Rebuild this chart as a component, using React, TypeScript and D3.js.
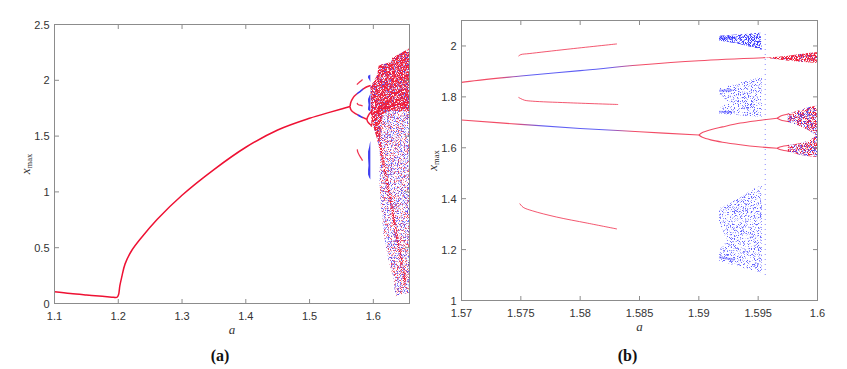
import React from 'react';
import * as d3 from 'd3';

type Pt = [number, number];

// period-1 branch (a = 1.1 .. first doubling)
const mainBranch: Pt[] = [
  [1.1, 0.105], [1.125, 0.089], [1.15, 0.076], [1.175, 0.064], [1.19, 0.057],
  [1.196, 0.054], [1.1985, 0.058], [1.2005, 0.08], [1.2025, 0.16], [1.2054, 0.236],
  [1.2107, 0.355], [1.2211, 0.475], [1.2368, 0.594], [1.2612, 0.755], [1.3, 0.97],
  [1.35, 1.2], [1.4, 1.4], [1.45, 1.555], [1.5, 1.66], [1.5325, 1.715],
  [1.55, 1.743], [1.5635, 1.765],
];

// period-2 branches
const upperBranch: Pt[] = [
  [1.5635, 1.765], [1.5642, 1.792], [1.5655, 1.814], [1.5675, 1.836], [1.57, 1.857],
  [1.575, 1.882], [1.58, 1.903], [1.585, 1.925], [1.59, 1.942], [1.5956, 1.954],
];
const lowerBranch: Pt[] = [
  [1.5635, 1.765], [1.5642, 1.745], [1.5655, 1.73], [1.5675, 1.718], [1.57, 1.709],
  [1.575, 1.692], [1.58, 1.676], [1.585, 1.663], [1.59, 1.65],
];
// a-ranges where the branches are drawn in blue
const upperBlueSpan = [1.5745, 1.5835];
const lowerBlueSpan = [1.5758, 1.5831];

// period-4 after a = 1.59
const upperSub: Pt[] = [
  [1.59, 1.65], [1.5903, 1.66], [1.591, 1.671], [1.592, 1.682], [1.5935, 1.697],
  [1.595, 1.707], [1.5966, 1.716],
];
const lowerSub: Pt[] = [
  [1.59, 1.65], [1.5903, 1.641], [1.591, 1.631], [1.592, 1.622], [1.5935, 1.612],
  [1.595, 1.604], [1.5966, 1.598],
];
// period-8 splits
const split1: Pt[] = [[1.5966, 1.716], [1.5969, 1.725], [1.5976, 1.734]];
const split2: Pt[] = [[1.5966, 1.716], [1.5969, 1.709], [1.5976, 1.702]];
const split3: Pt[] = [[1.5966, 1.598], [1.5969, 1.604], [1.5976, 1.61]];
const split4: Pt[] = [[1.5966, 1.598], [1.5969, 1.592], [1.5976, 1.586]];

// coexisting window branches (red dashes)
const windowTop: Pt[] = [[1.5748, 1.96], [1.575, 1.966], [1.5757, 1.97], [1.5789, 1.987], [1.5831, 2.008]];
const windowMid: Pt[] = [[1.5748, 1.798], [1.5753, 1.787], [1.576, 1.783], [1.5789, 1.777], [1.5832, 1.77]];
const windowLow: Pt[] = [[1.5749, 1.381], [1.5752, 1.366], [1.576, 1.352], [1.578, 1.328], [1.5806, 1.304], [1.5831, 1.281]];

// blue chaotic patches
const blueTop: Pt[] = [
  [1.5917, 2.04], [1.5935, 2.046], [1.5952, 2.052], [1.5953, 1.985], [1.5945, 1.995],
  [1.5935, 2.007], [1.5925, 2.016], [1.5917, 2.021],
];
const blueMid: Pt[] = [
  [1.5917, 1.833], [1.5935, 1.856], [1.5953, 1.879], [1.5953, 1.722], [1.5935, 1.727],
  [1.5917, 1.735], [1.5917, 1.752], [1.5925, 1.781], [1.5917, 1.812],
];
const blueLow: Pt[] = [
  [1.5917, 1.361], [1.5935, 1.405], [1.5944, 1.433], [1.5953, 1.455], [1.5953, 1.11],
  [1.5935, 1.13], [1.5917, 1.157], [1.5917, 1.197], [1.5924, 1.236], [1.5917, 1.302],
];
// dense strips along the left edges of the blue patches
const blueStrips: Pt[][] = [
  [[1.5917, 2.03], [1.5932, 2.032]],
  [[1.5917, 1.824], [1.5928, 1.826]],
  [[1.5917, 1.742], [1.5928, 1.74]],
  [[1.5917, 1.17], [1.593, 1.16]],
];
const blueColumn: Pt[] = [[1.5956, 1.1], [1.5956, 2.06]];

// chaotic band near a = 1.6 (panel b)
const fanB: Pt[] = [
  [1.5956, 1.954], [1.5974, 1.961], [1.5988, 1.97], [1.6005, 1.979], [1.6005, 1.931],
  [1.5988, 1.937], [1.5974, 1.943],
];
const chaosB: Pt[] = [
  [1.5975, 1.733], [1.5985, 1.748], [1.5993, 1.76], [1.6005, 1.772], [1.6005, 1.562],
  [1.5993, 1.567], [1.5985, 1.573], [1.5975, 1.586], [1.5975, 1.61], [1.5985, 1.618],
  [1.5993, 1.628], [1.5999, 1.648], [1.5993, 1.668], [1.5985, 1.686], [1.5975, 1.702],
];

// chaotic region of panel a
const chaosA: Pt[] = [
  [1.5955, 1.95], [1.601, 1.99], [1.606, 2.05], [1.6083, 2.13], [1.612, 2.14],
  [1.62, 2.15], [1.6285, 2.165], [1.6295, 2.2], [1.642, 2.24], [1.658, 2.29],
  [1.658, 0.1], [1.652, 0.09], [1.645, 0.085], [1.6345, 0.06], [1.632, 0.206],
  [1.624, 0.385], [1.616, 0.625], [1.611, 0.92], [1.609, 1.13], [1.611, 1.28],
  [1.608, 1.43], [1.6005, 1.58], [1.597, 1.62],
];
const chaosADense: Pt[] = [
  [1.5955, 1.95], [1.601, 1.99], [1.606, 2.05], [1.6083, 2.13], [1.612, 2.14],
  [1.62, 2.15], [1.6285, 2.165], [1.6295, 2.2], [1.642, 2.24], [1.658, 2.29],
  [1.658, 1.72], [1.63, 1.73], [1.615, 1.7], [1.612, 1.58], [1.61, 1.45],
  [1.608, 1.43], [1.6005, 1.58], [1.597, 1.62],
];
const chaosAStreak: Pt[] = [
  [1.608, 1.43], [1.612, 1.45], [1.6157, 1.32], [1.63, 0.9], [1.642, 0.5],
  [1.652, 0.19], [1.648, 0.15], [1.638, 0.5], [1.626, 0.9], [1.612, 1.3],
];
const chaosABand: Pt[] = [[1.607, 1.74], [1.62, 1.76], [1.64, 1.785], [1.658, 1.81]];

const ticksAX = [1.1, 1.2, 1.3, 1.4, 1.5, 1.6];
const ticksAY = [0, 0.5, 1, 1.5, 2, 2.5];
const ticksBX = [1.57, 1.575, 1.58, 1.585, 1.59, 1.595, 1.6];
const ticksBY = [1, 1.2, 1.4, 1.6, 1.8, 2];

const RED = '#ee1133';
const BLUE = '#2a2af0';
const DOT_RED = '#f0203a';
const DOT_BLUE = '#3c3cff';
const FRAME = '#8c8c8c';
const INK = '#333';

type Box = { left: number; right: number; top: number; bottom: number };

const speckles = [
  { id: 'spDense', seed: 3, thr: 0.4 },
  { id: 'spMid', seed: 7, thr: 0.46 },
  { id: 'spSparse', seed: 11, thr: 0.53 },
  { id: 'spBlue', seed: 19, thr: 0.53 },
  { id: 'spBluePatch', seed: 31, thr: 0.53 },
  { id: 'spBlueLight', seed: 29, thr: 0.62 },
  { id: 'spBlueDense', seed: 23, thr: 0.44 },
];

function Panel({ tag, box, xDomain, yDomain, xTicks, yTicks }: {
  tag: string; box: Box; xDomain: number[]; yDomain: number[]; xTicks: number[]; yTicks: number[];
}) {
  const x = d3.scaleLinear().domain(xDomain).range([box.left, box.right]);
  const y = d3.scaleLinear().domain(yDomain).range([box.bottom, box.top]);
  const curve = d3.line<Pt>().x((d) => x(d[0])).y((d) => y(d[1])).curve(d3.curveCatmullRom.alpha(0.5));
  const poly = (pts: Pt[]) => d3.line<Pt>().x((d) => x(d[0])).y((d) => y(d[1]))(pts) + 'Z';
  const isA = tag === 'a';
  const lw = isA ? 1.5 : 1.1;
  const lo = isA ? 0.95 : 0.75;
  const tick = 4.5;

  const grad = (id: string, span: number[]) => {
    const x1 = x(span[0] - 0.0015);
    const x2 = x(span[1] + 0.0015);
    const w = span[1] - span[0] + 0.003;
    const k = 0.0027 / w;
    return (
      <linearGradient id={id} gradientUnits="userSpaceOnUse" x1={x1} x2={x2} y1={0} y2={0}>
        <stop offset={0} stopColor={RED} />
        <stop offset={k} stopColor={BLUE} />
        <stop offset={1 - k} stopColor={BLUE} />
        <stop offset={1} stopColor={RED} />
      </linearGradient>
    );
  };

  const redLines = [upperSub, lowerSub, split1, split2, split3, split4];
  const windows = [windowTop, windowMid, windowLow];
  const blues = [blueTop, blueMid, blueLow];

  return (
    <g>
      <defs>
        <clipPath id={`clip-${tag}`}>
          <rect x={box.left} y={box.top} width={box.right - box.left} height={box.bottom - box.top} />
        </clipPath>
        {grad(`gu-${tag}`, upperBlueSpan)}
        {grad(`gl-${tag}`, lowerBlueSpan)}
      </defs>
      <g clipPath={`url(#clip-${tag})`}>
        {isA ? (
          <g>
            <path d={poly(chaosA)} fill={DOT_RED} filter="url(#spSparse)" opacity={0.8} />
            <path d={poly(chaosA)} fill={DOT_BLUE} filter="url(#spBlue)" opacity={0.75} />
            <path d={poly(chaosADense)} fill={DOT_RED} filter="url(#spDense)" />
            <path d={poly(chaosADense)} fill={DOT_BLUE} filter="url(#spBlueLight)" opacity={0.85} />
            <path d={poly(chaosAStreak)} fill={DOT_RED} filter="url(#spMid)" />
            <path d={curve(chaosABand)!} fill="none" stroke={RED} strokeWidth={1.3} opacity={0.85} />
          </g>
        ) : (
          <g>
            <path d={curve(blueColumn)!} fill="none" stroke={DOT_BLUE} strokeWidth={1.2} strokeDasharray="1 4" opacity={0.5} />
            {blues.map((b, i) => (
              <path key={i} d={poly(b)} fill={DOT_BLUE} opacity={i === 0 ? 1 : 0.8}
                filter={i === 0 ? 'url(#spBlueDense)' : 'url(#spBluePatch)'} />
            ))}
            {blueStrips.map((s, i) => (
              <path key={i} d={curve(s)!} fill="none" stroke={DOT_BLUE} strokeWidth={2} opacity={0.45} />
            ))}
            <path d={poly(chaosB)} fill={DOT_RED} filter="url(#spMid)" />
            <path d={poly(chaosB)} fill={DOT_BLUE} filter="url(#spBlue)" opacity={0.85} />
            <path d={poly(fanB)} fill={DOT_RED} filter="url(#spDense)" />
            <path d={poly(fanB)} fill={DOT_BLUE} filter="url(#spBlueLight)" />
          </g>
        )}
        {isA && <path d={curve(mainBranch)!} fill="none" stroke={RED} strokeWidth={lw} />}
        <path d={curve(upperBranch)!} fill="none" stroke={`url(#gu-${tag})`} strokeWidth={lw} strokeOpacity={lo} />
        <path d={curve(lowerBranch)!} fill="none" stroke={`url(#gl-${tag})`} strokeWidth={lw} strokeOpacity={lo} />
        {redLines.map((l, i) => (
          <path key={i} d={curve(l)!} fill="none" stroke={RED} strokeWidth={lw} strokeOpacity={lo} />
        ))}
        {windows.map((l, i) => (
          <path key={i} d={curve(l)!} fill="none" stroke={RED} strokeWidth={isA ? 1.3 : 1.0} strokeOpacity={isA ? 0.85 : 0.7} />
        ))}
        {isA && blues.map((b, i) => <path key={i} d={poly(b)} fill={BLUE} opacity={0.9} />)}
      </g>
      <rect x={box.left} y={box.top} width={box.right - box.left} height={box.bottom - box.top} fill="none" stroke={FRAME} strokeWidth={1} />
      {xTicks.map((t) => (
        <g key={t}>
          <line x1={x(t)} x2={x(t)} y1={box.bottom} y2={box.bottom - tick} stroke={FRAME} />
          <line x1={x(t)} x2={x(t)} y1={box.top} y2={box.top + tick} stroke={FRAME} />
          <text x={x(t)} y={box.bottom + 16} textAnchor="middle" fontSize={11} fill={INK}
            fontFamily="'Liberation Sans', Arial, sans-serif">{String(t)}</text>
        </g>
      ))}
      {yTicks.map((t) => (
        <g key={t}>
          <line x1={box.left} x2={box.left + tick} y1={y(t)} y2={y(t)} stroke={FRAME} />
          <line x1={box.right} x2={box.right - tick} y1={y(t)} y2={y(t)} stroke={FRAME} />
          <text x={box.left - 5} y={y(t) + 4} textAnchor="end" fontSize={11} fill={INK}
            fontFamily="'Liberation Sans', Arial, sans-serif">{String(t)}</text>
        </g>
      ))}
      <text x={(box.left + box.right) / 2} y={box.bottom + 30} textAnchor="middle" fontSize={13}
        fontStyle="italic" fill={INK} fontFamily="'Liberation Serif', serif">a</text>
      <text transform={`translate(${box.left - 25},${(box.top + box.bottom) / 2}) rotate(-90)`}
        textAnchor="middle" fill={INK} fontFamily="'Liberation Serif', serif">
        <tspan fontStyle="italic" fontSize={13}>x</tspan>
        <tspan fontSize={8.5} dy={2}>max</tspan>
      </text>
      <text x={(box.left + box.right) / 2 - 12} y={361} textAnchor="middle" fontSize={16} fontWeight="bold"
        fill="#111" fontFamily="'Liberation Serif', serif">({tag})</text>
    </g>
  );
}

export default function App() {
  return (
    <svg width={847} height={369} style={{ position: 'absolute', left: 0, top: 0, background: '#fff' }}>
      <defs>
        {speckles.map((s) => (
          <filter key={s.id} id={s.id} filterUnits="userSpaceOnUse" x={0} y={0} width={847} height={369}
            colorInterpolationFilters="sRGB">
            <feTurbulence type="fractalNoise" baseFrequency={1.3} numOctaves={1} seed={s.seed} result="n" />
            <feColorMatrix in="n" type="matrix" values="0 0 0 0 0  0 0 0 0 0  0 0 0 0 0  1 0 0 0 0" result="m" />
            <feComponentTransfer in="m" result="t">
              <feFuncA type="linear" slope={8} intercept={-8 * s.thr} />
            </feComponentTransfer>
            <feComposite in="SourceGraphic" in2="t" operator="in" />
          </filter>
        ))}
      </defs>
      <Panel tag="a" box={{ left: 54.5, right: 409.5, top: 24.5, bottom: 303.5 }}
        xDomain={[1.1, 1.6567]} yDomain={[0, 2.5]} xTicks={ticksAX} yTicks={ticksAY} />
      <Panel tag="b" box={{ left: 461.5, right: 817.5, top: 20.5, bottom: 300.5 }}
        xDomain={[1.57, 1.6]} yDomain={[1, 2.1]} xTicks={ticksBX} yTicks={ticksBY} />
    </svg>
  );
}
